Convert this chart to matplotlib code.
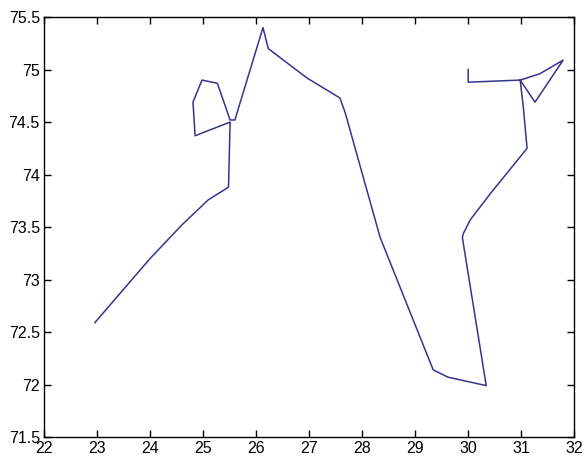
import matplotlib
matplotlib.use('Agg')
import matplotlib.pyplot as plt

# track coordinates
lon = [22.96, 24.0, 24.6, 25.1, 25.48, 25.51, 24.85, 24.81, 24.98, 25.27, 25.51,
       25.6, 26.13, 26.23, 26.96, 27.58, 27.68, 28.34, 29.34, 29.62, 30.34,
       29.89, 29.91, 30.04, 30.42, 31.11, 31.04, 30.98, 31.26, 31.79, 31.35,
       30.98, 30.0, 30.0]
lat = [72.59, 73.2, 73.52, 73.76, 73.88, 74.5, 74.37, 74.69, 74.9, 74.87, 74.52,
       74.52, 75.40, 75.20, 74.92, 74.73, 74.59, 73.40, 72.14, 72.07, 71.99,
       73.40, 73.44, 73.57, 73.82, 74.25, 74.64, 74.9, 74.69, 75.09, 74.96,
       74.9, 74.88, 75.0]

xticks = [22, 23, 24, 25, 26, 27, 28, 29, 30, 31, 32]
yticks = [71.5, 72, 72.5, 73, 73.5, 74, 74.5, 75, 75.5]

plt.rcParams['font.family'] = ['Liberation Sans', 'DejaVu Sans']

fig = plt.figure(figsize=(5.84, 4.62), dpi=100)
ax = fig.add_axes([0.0753, 0.054, 0.908, 0.909])
ax.plot(lon, lat, color='#35358f', linewidth=1.1)

ax.set_xlim(22, 32)
ax.set_ylim(71.5, 75.5)
ax.set_xticks(xticks)
ax.set_yticks(yticks)
ax.set_xticklabels([str(v) for v in xticks])
ax.set_yticklabels([('%g' % v) for v in yticks])
ax.tick_params(direction='in', length=5, width=1, top=True, right=True,
               labelsize=11.5, pad=3)
for s in ax.spines.values():
    s.set_linewidth(1)

fig.savefig('out.png', dpi=100)
